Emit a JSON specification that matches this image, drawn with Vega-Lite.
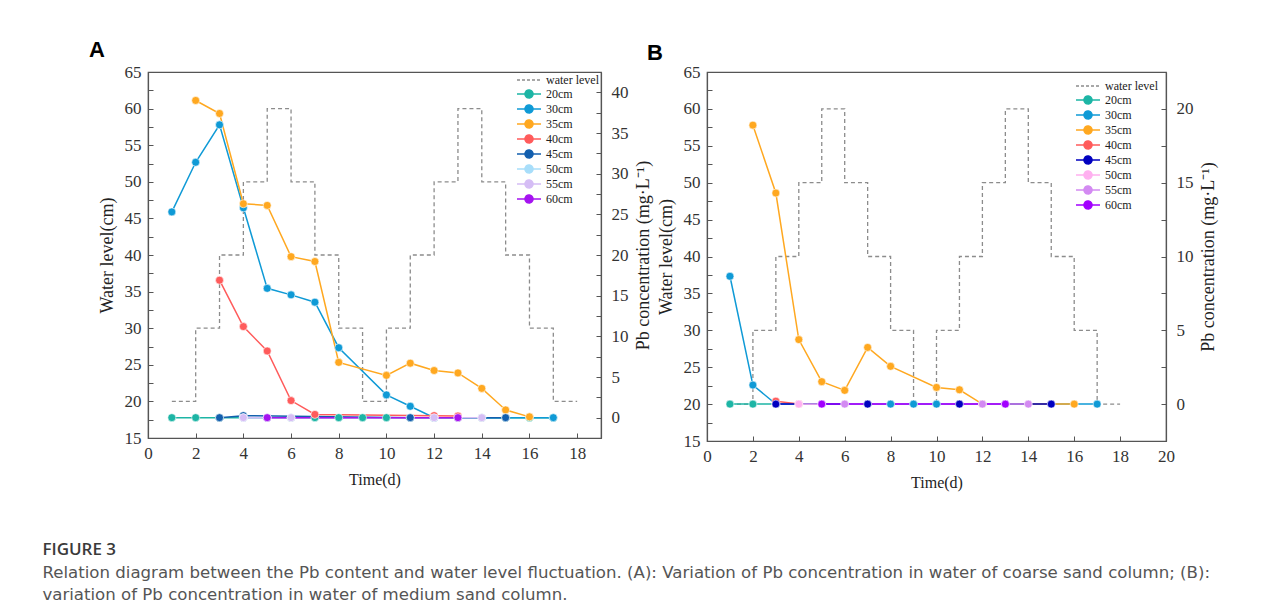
{
  "$schema": "https://vega.github.io/schema/vega-lite/v6.json",
  "background": "white",
  "padding": {"left": 42, "top": 38, "right": 5, "bottom": 5},
  "config": {
    "view": {"stroke": "#555", "strokeWidth": 1.2},
    "axis": {
      "labelFont": "Liberation Serif", "labelFontSize": 17, "labelColor": "#333",
      "titleFont": "Liberation Serif", "titleFontSize": 18, "titleFontWeight": "normal", "titleColor": "#222",
      "domainColor": "#555", "domainWidth": 1.2, "tickColor": "#555", "tickSize": -5, "tickWidth": 1,
      "grid": false, "labelFlush": false, "labelOverlap": false, "labelBound": false
    },
    "legend": {
      "labelFont": "Liberation Serif", "labelFontSize": 12, "labelColor": "#222",
      "symbolSize": 64, "symbolStrokeWidth": 1.5, "rowPadding": 1, "labelOffset": 11, "padding": 0,
      "symbolType": "M-3,0H3M1,0A1,1,0,1,1,-1,0A1,1,0,1,1,1,0"
    }
  },
  "title": {
    "text": "FIGURE 3",
    "subtitle": [
      "Relation diagram between the Pb content and water level fluctuation. (A): Variation of Pb concentration in water of coarse sand column; (B):",
      "variation of Pb concentration in water of medium sand column."
    ],
    "orient": "bottom", "anchor": "start", "dx": -46, "offset": 51,
    "font": "Open Sans", "fontSize": 17, "fontWeight": 600, "color": "#3a3a3a",
    "subtitleFont": "DejaVu Sans", "subtitleFontSize": 16.6, "subtitleColor": "#555", "subtitleLineHeight": 22, "subtitlePadding": 6
  },
  "datasets": {
    "water": [
      {"day": 1, "level": 20, "series": "water level"},
      {"day": 2, "level": 30, "series": "water level"},
      {"day": 3, "level": 40, "series": "water level"},
      {"day": 4, "level": 50, "series": "water level"},
      {"day": 5, "level": 60, "series": "water level"},
      {"day": 6, "level": 50, "series": "water level"},
      {"day": 7, "level": 40, "series": "water level"},
      {"day": 8, "level": 30, "series": "water level"},
      {"day": 9, "level": 20, "series": "water level"},
      {"day": 10, "level": 30, "series": "water level"},
      {"day": 11, "level": 40, "series": "water level"},
      {"day": 12, "level": 50, "series": "water level"},
      {"day": 13, "level": 60, "series": "water level"},
      {"day": 14, "level": 50, "series": "water level"},
      {"day": 15, "level": 40, "series": "water level"},
      {"day": 16, "level": 30, "series": "water level"},
      {"day": 17, "level": 20, "series": "water level"},
      {"day": 18, "level": 20, "series": "water level"}
    ],
    "pbA": [
      {"day": 1, "conc": 0, "series": "20cm"}, {"day": 2, "conc": 0, "series": "20cm"}, {"day": 3, "conc": 0, "series": "20cm"},
      {"day": 4, "conc": 0, "series": "20cm"}, {"day": 5, "conc": 0, "series": "20cm"}, {"day": 6, "conc": 0, "series": "20cm"},
      {"day": 7, "conc": 0, "series": "20cm"}, {"day": 8, "conc": 0, "series": "20cm"}, {"day": 9, "conc": 0, "series": "20cm"},
      {"day": 10, "conc": 0, "series": "20cm"}, {"day": 11, "conc": 0, "series": "20cm"}, {"day": 12, "conc": 0, "series": "20cm"},
      {"day": 13, "conc": 0, "series": "20cm"}, {"day": 14, "conc": 0, "series": "20cm"}, {"day": 15, "conc": 0, "series": "20cm"},
      {"day": 16, "conc": 0, "series": "20cm"}, {"day": 17, "conc": 0, "series": "20cm"},
      {"day": 1, "conc": 25.3, "series": "30cm"}, {"day": 2, "conc": 31.4, "series": "30cm"}, {"day": 3, "conc": 36.0, "series": "30cm"},
      {"day": 4, "conc": 25.8, "series": "30cm"}, {"day": 5, "conc": 15.9, "series": "30cm"}, {"day": 6, "conc": 15.1, "series": "30cm"},
      {"day": 7, "conc": 14.2, "series": "30cm"}, {"day": 8, "conc": 8.6, "series": "30cm"}, {"day": 10, "conc": 2.8, "series": "30cm"},
      {"day": 11, "conc": 1.4, "series": "30cm"}, {"day": 12, "conc": 0, "series": "30cm"}, {"day": 17, "conc": 0, "series": "30cm"},
      {"day": 2, "conc": 39.0, "series": "35cm"}, {"day": 3, "conc": 37.4, "series": "35cm"}, {"day": 4, "conc": 26.3, "series": "35cm"},
      {"day": 5, "conc": 26.1, "series": "35cm"}, {"day": 6, "conc": 19.8, "series": "35cm"}, {"day": 7, "conc": 19.2, "series": "35cm"},
      {"day": 8, "conc": 6.8, "series": "35cm"}, {"day": 10, "conc": 5.2, "series": "35cm"}, {"day": 11, "conc": 6.7, "series": "35cm"},
      {"day": 12, "conc": 5.8, "series": "35cm"}, {"day": 13, "conc": 5.5, "series": "35cm"}, {"day": 14, "conc": 3.6, "series": "35cm"},
      {"day": 15, "conc": 0.95, "series": "35cm"}, {"day": 16, "conc": 0.1, "series": "35cm"},
      {"day": 3, "conc": 16.9, "series": "40cm"}, {"day": 4, "conc": 11.2, "series": "40cm"}, {"day": 5, "conc": 8.2, "series": "40cm"},
      {"day": 6, "conc": 2.1, "series": "40cm"}, {"day": 7, "conc": 0.4, "series": "40cm"}, {"day": 12, "conc": 0.25, "series": "40cm"},
      {"day": 13, "conc": 0.2, "series": "40cm"},
      {"day": 3, "conc": 0, "series": "45cm"}, {"day": 4, "conc": 0.25, "series": "45cm"}, {"day": 11, "conc": 0, "series": "45cm"},
      {"day": 15, "conc": 0, "series": "45cm"},
      {"day": 4, "conc": 0, "series": "50cm"}, {"day": 5, "conc": 0, "series": "50cm"},
      {"day": 4, "conc": 0, "series": "55cm"}, {"day": 6, "conc": 0, "series": "55cm"}, {"day": 12, "conc": 0, "series": "55cm"},
      {"day": 14, "conc": 0, "series": "55cm"},
      {"day": 5, "conc": 0, "series": "60cm"}, {"day": 13, "conc": 0, "series": "60cm"}
    ],
    "pbB": [
      {"day": 1, "conc": 0, "series": "20cm"}, {"day": 2, "conc": 0, "series": "20cm"}, {"day": 3, "conc": 0, "series": "20cm"},
      {"day": 1, "conc": 8.66, "series": "30cm"}, {"day": 2, "conc": 1.29, "series": "30cm"}, {"day": 3, "conc": 0, "series": "30cm"},
      {"day": 8, "conc": 0, "series": "30cm"}, {"day": 9, "conc": 0, "series": "30cm"}, {"day": 10, "conc": 0, "series": "30cm"},
      {"day": 17, "conc": 0, "series": "30cm"},
      {"day": 2, "conc": 18.9, "series": "35cm"}, {"day": 3, "conc": 14.3, "series": "35cm"}, {"day": 4, "conc": 4.37, "series": "35cm"},
      {"day": 5, "conc": 1.52, "series": "35cm"}, {"day": 6, "conc": 0.93, "series": "35cm"}, {"day": 7, "conc": 3.84, "series": "35cm"},
      {"day": 8, "conc": 2.56, "series": "35cm"}, {"day": 10, "conc": 1.13, "series": "35cm"}, {"day": 11, "conc": 0.97, "series": "35cm"},
      {"day": 12, "conc": 0, "series": "35cm"}, {"day": 16, "conc": 0, "series": "35cm"},
      {"day": 3, "conc": 0.2, "series": "40cm"}, {"day": 4, "conc": 0, "series": "40cm"},
      {"day": 3, "conc": 0, "series": "45cm"}, {"day": 7, "conc": 0, "series": "45cm"}, {"day": 11, "conc": 0, "series": "45cm"},
      {"day": 15, "conc": 0, "series": "45cm"},
      {"day": 4, "conc": 0, "series": "50cm"}, {"day": 5, "conc": 0, "series": "50cm"},
      {"day": 6, "conc": 0, "series": "55cm"}, {"day": 12, "conc": 0, "series": "55cm"}, {"day": 13, "conc": 0, "series": "55cm"},
      {"day": 14, "conc": 0, "series": "55cm"},
      {"day": 5, "conc": 0, "series": "60cm"}, {"day": 13, "conc": 0, "series": "60cm"}
    ]
  },
  "spacing": -7,
  "hconcat": [
    {
      "width": 453, "height": 366,
      "title": {"text": "A", "anchor": "start", "frame": "group", "dx": -59, "offset": 1, "fontSize": 22, "font": "Liberation Sans", "fontWeight": "bold", "color": "black"},
      "layer": [
        {
          "data": {"name": "water"},
          "mark": {"type": "line", "interpolate": "step-after", "strokeDash": [4, 3], "strokeWidth": 1.3},
          "encoding": {
            "x": {"field": "day", "type": "quantitative", "scale": {"domain": [0, 19], "nice": false},
                  "axis": {"title": "Time(d)", "titleFontSize": 16, "values": [0,1,2,3,4,5,6,7,8,9,10,11,12,13,14,15,16,17,18],
                           "labelExpr": "datum.value % 2 === 0 ? datum.label : ''", "labelPadding": 12, "titlePadding": 10}},
            "y": {"field": "level", "type": "quantitative", "scale": {"domain": [15, 65], "nice": false, "zero": false},
                  "axis": {"orient": "left", "title": "Water level(cm)",
                           "values": [15,17.5,20,22.5,25,27.5,30,32.5,35,37.5,40,42.5,45,47.5,50,52.5,55,57.5,60,62.5,65],
                           "labelExpr": "datum.value % 5 === 0 ? datum.label : ''", "labelPadding": 12, "titlePadding": 8}},
            "color": {"field": "series", "type": "nominal",
                      "scale": {"domain": ["water level","20cm","30cm","35cm","40cm","45cm","50cm","55cm","60cm"],
                                "range": ["#8c8c8c","#1db5a5","#0f9ad6","#ffa820","#ff5b5b","#135fae","#a8defa","#d5bdf5","#a513f0"]},
                      "legend": {"title": null, "orient": "top-right", "offset": 2,
                        "encode": {"symbols": {"update": {
                          "shape": {"signal": "datum.value === 'water level' ? 'M-3,0H3' : 'M-3,0H3M1,0A1,1,0,1,1,-1,0A1,1,0,1,1,1,0'"},
                          "strokeDash": {"signal": "datum.value === 'water level' ? [3,2] : [1,0]"},
                          "fill": {"signal": "({'water level':'#8c8c8c','20cm':'#1db5a5','30cm':'#0f9ad6','35cm':'#ffa820','40cm':'#ff5b5b','45cm':'#135fae','50cm':'#a8defa','55cm':'#d5bdf5','60cm':'#a513f0'})[datum.value]"},
                          "stroke": {"signal": "({'water level':'#8c8c8c','20cm':'#1db5a5','30cm':'#0f9ad6','35cm':'#ffa820','40cm':'#ff5b5b','45cm':'#135fae','50cm':'#a8defa','55cm':'#d5bdf5','60cm':'#a513f0'})[datum.value]"},
                          "opacity": {"value": 1}
                        }}}}}
          }
        },
        {
          "data": {"name": "pbA"},
          "mark": {"type": "line", "strokeWidth": 1.5, "point": {"filled": true, "size": 64, "stroke": "white", "strokeWidth": 0.6}},
          "encoding": {
            "x": {"field": "day", "type": "quantitative"},
            "y": {"field": "conc", "type": "quantitative", "scale": {"domain": [-2.5, 42.5], "nice": false, "zero": false},
                  "axis": {"orient": "right", "title": "Pb concentration (mg·L⁻¹)", "titleAngle": 270, "titleBaseline": "top",
                           "values": [0,2.5,5,7.5,10,12.5,15,17.5,20,22.5,25,27.5,30,32.5,35,37.5,40],
                           "labelExpr": "datum.value % 5 === 0 ? datum.label : ''", "labelPadding": 15, "titlePadding": 6}},
            "color": {"field": "series", "type": "nominal"}
          }
        }
      ],
      "resolve": {"scale": {"y": "independent"}}
    },
    {
      "width": 459, "height": 369,
      "title": {"text": "B", "anchor": "start", "frame": "group", "dx": -60, "offset": -2, "fontSize": 22, "font": "Liberation Sans", "fontWeight": "bold", "color": "black"},
      "layer": [
        {
          "data": {"name": "water"},
          "mark": {"type": "line", "interpolate": "step-after", "strokeDash": [4, 3], "strokeWidth": 1.3},
          "encoding": {
            "x": {"field": "day", "type": "quantitative", "scale": {"domain": [0, 20], "nice": false},
                  "axis": {"title": "Time(d)", "titleFontSize": 16, "values": [0,1,2,3,4,5,6,7,8,9,10,11,12,13,14,15,16,17,18,19,20],
                           "labelExpr": "datum.value % 2 === 0 ? datum.label : ''", "labelPadding": 12, "titlePadding": 10}},
            "y": {"field": "level", "type": "quantitative", "scale": {"domain": [15, 65], "nice": false, "zero": false},
                  "axis": {"orient": "left", "title": "Water level(cm)",
                           "values": [15,17.5,20,22.5,25,27.5,30,32.5,35,37.5,40,42.5,45,47.5,50,52.5,55,57.5,60,62.5,65],
                           "labelExpr": "datum.value % 5 === 0 ? datum.label : ''", "labelPadding": 12, "titlePadding": 8}},
            "color": {"field": "series", "type": "nominal",
                      "scale": {"domain": ["water level","20cm","30cm","35cm","40cm","45cm","50cm","55cm","60cm"],
                                "range": ["#8c8c8c","#1db5a5","#0f9ad6","#ffa820","#ff5b5b","#0000c0","#ffb0f0","#d38af2","#a200ff"]},
                      "legend": {"title": null, "orient": "top-right", "offset": 8,
                        "encode": {"symbols": {"update": {
                          "shape": {"signal": "datum.value === 'water level' ? 'M-3,0H3' : 'M-3,0H3M1,0A1,1,0,1,1,-1,0A1,1,0,1,1,1,0'"},
                          "strokeDash": {"signal": "datum.value === 'water level' ? [3,2] : [1,0]"},
                          "fill": {"signal": "({'water level':'#8c8c8c','20cm':'#1db5a5','30cm':'#0f9ad6','35cm':'#ffa820','40cm':'#ff5b5b','45cm':'#0000c0','50cm':'#ffb0f0','55cm':'#d38af2','60cm':'#a200ff'})[datum.value]"},
                          "stroke": {"signal": "({'water level':'#8c8c8c','20cm':'#1db5a5','30cm':'#0f9ad6','35cm':'#ffa820','40cm':'#ff5b5b','45cm':'#0000c0','50cm':'#ffb0f0','55cm':'#d38af2','60cm':'#a200ff'})[datum.value]"},
                          "opacity": {"value": 1}
                        }}}}}
          }
        },
        {
          "data": {"name": "pbB"},
          "mark": {"type": "line", "strokeWidth": 1.5, "point": {"filled": true, "size": 64, "stroke": "white", "strokeWidth": 0.6}},
          "encoding": {
            "x": {"field": "day", "type": "quantitative"},
            "y": {"field": "conc", "type": "quantitative", "scale": {"domain": [-2.5, 22.5], "nice": false, "zero": false},
                  "axis": {"orient": "right", "title": "Pb concentration (mg·L⁻¹)", "titleAngle": 270, "titleBaseline": "top",
                           "values": [0,2.5,5,7.5,10,12.5,15,17.5,20],
                           "labelExpr": "datum.value % 5 === 0 ? datum.label : ''", "labelPadding": 15, "titlePadding": 6}},
            "color": {"field": "series", "type": "nominal"}
          }
        }
      ],
      "resolve": {"scale": {"y": "independent"}}
    }
  ],
  "resolve": {"scale": {"color": "independent"}, "legend": {"color": "independent"}}
}
